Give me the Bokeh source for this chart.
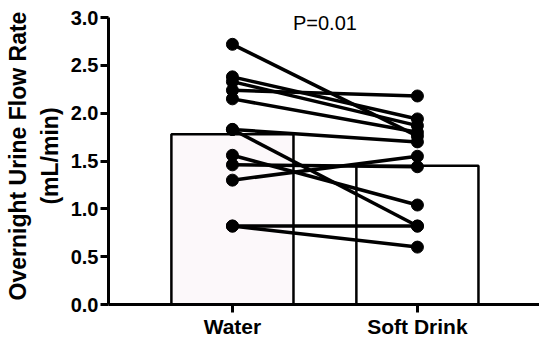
from bokeh.plotting import figure
from bokeh.models import Range1d, FixedTicker, Label
from bokeh.embed import file_html
from bokeh.resources import INLINE

groups = ["Water", "Soft Drink"]
group_x = [1, 2]
bar_means = [1.78, 1.45]
water = [2.72, 2.38, 2.33, 2.24, 2.15, 1.83, 1.83, 1.56, 1.46, 1.30, 0.82, 0.82]
soft_drink = [1.76, 1.94, 1.87, 2.18, 1.80, 1.70, 0.82, 1.04, 1.44, 1.55, 0.82, 0.60]
y_ticks = [0.0, 0.5, 1.0, 1.5, 2.0, 2.5, 3.0]
p_text = "P=0.01"

FONT = "Liberation Sans"

p = figure(width=539, height=340, output_backend="svg", toolbar_location=None,
           x_range=Range1d(0.33, 2.66), y_range=Range1d(0, 3.105),
           min_border_left=108, min_border_right=0, min_border_top=7,
           min_border_bottom=36)
p.outline_line_color = None
p.grid.visible = False
p.background_fill_color = "white"

p.vbar(x=group_x, top=bar_means, bottom=0, width=0.66,
       fill_color=["#fcf8fa", "#ffffff"], line_color="black", line_width=2.5)

for w, s in zip(water, soft_drink):
    p.line(x=group_x, y=[w, s], line_color="black", line_width=3.5)

p.scatter(x=[group_x[0]] * len(water), y=water, size=12, color="black")
p.scatter(x=[group_x[1]] * len(soft_drink), y=soft_drink, size=12, color="black")

# axes
for ax in (p.xaxis[0], p.yaxis[0]):
    ax.axis_line_width = 3
    ax.axis_line_color = "black"
    ax.major_tick_line_width = 3
    ax.major_tick_line_color = "black"
    ax.major_tick_out = 8
    ax.major_tick_in = 0
    ax.minor_tick_line_color = None
    ax.major_label_text_font = FONT
    ax.major_label_text_font_style = "bold"
    ax.major_label_text_color = "black"

p.yaxis.bounds = (0, 3.0)
p.yaxis.ticker = FixedTicker(ticks=y_ticks)
p.yaxis.major_label_overrides = {t: f"{t:.1f}" for t in y_ticks}
p.yaxis.major_label_text_font_size = "20px"
p.yaxis.major_label_standoff = 2
p.yaxis.axis_label = "Overnight Urine Flow Rate\n(mL/min)"
p.yaxis.axis_label_text_font = FONT
p.yaxis.axis_label_text_font_style = "bold"
p.yaxis.axis_label_text_font_size = "23px"
p.yaxis.axis_label_text_color = "black"
p.yaxis.axis_label_standoff = 5

p.xaxis.ticker = FixedTicker(ticks=group_x)
p.xaxis.major_label_overrides = {x: g for x, g in zip(group_x, groups)}
p.xaxis.major_label_text_font_size = "21px"
p.xaxis.major_label_standoff = 2

p.add_layout(Label(x=1.5, y=2.94, text=p_text, text_font=FONT,
                   text_font_size="20px", text_align="center",
                   text_baseline="alphabetic", text_color="black"))

open("out.html", "w").write(file_html(p, INLINE))
